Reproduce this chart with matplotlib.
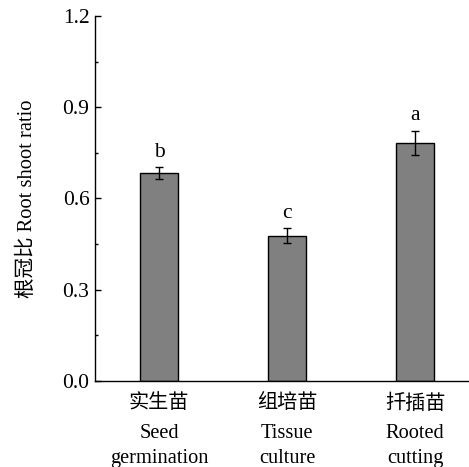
import numpy as np
import matplotlib
matplotlib.use('Agg')
import matplotlib.pyplot as plt

# Data
labels_cn = ['实生苗', '组培苗', '扦插苗']
labels_en1 = ['Seed', 'Tissue', 'Rooted']
labels_en2 = ['germination', 'culture', 'cutting']
means = [0.683, 0.478, 0.783]
errors = [0.019, 0.024, 0.040]
letters = ['b', 'c', 'a']

plt.rcParams['font.family'] = ['Liberation Serif', 'Noto Sans CJK SC']
plt.rcParams['font.size'] = 15

fig = plt.figure(figsize=(4.69, 4.67), dpi=100)
ax = fig.add_axes([0.2026, 0.1842, 0.8188, 0.7816])

x = np.arange(1, len(means) + 1)
ax.bar(x, means, width=0.3, color='#808080', edgecolor='black', linewidth=1,
       yerr=errors, error_kw=dict(ecolor='black', elinewidth=1, capsize=3.2, capthick=1))

# significance letters above the error bars
for xi, m, e, lt in zip(x, means, errors, letters):
    ax.annotate(lt, (xi, m + e), xytext=(0, 4), textcoords='offset points',
                ha='center', va='bottom', fontsize=15.5)

ax.set_xlim(0.5, 3.5)
ax.set_ylim(0, 1.2)
ax.set_yticks([0, 0.3, 0.6, 0.9, 1.2])
ax.set_yticklabels(['0.0', '0.3', '0.6', '0.9', '1.2'], fontsize=15.5)
ax.set_yticks(np.arange(0.15, 1.2, 0.3), minor=True)
ax.tick_params(axis='y', which='major', direction='in', length=4, width=1, pad=4)
ax.tick_params(axis='y', which='minor', direction='in', length=2.5, width=1)

ax.set_xticks(x)
ax.set_xticklabels(labels_cn, fontsize=14.5)
ax.tick_params(axis='x', length=0, pad=9.5)

# English names below the Chinese ones
trans = ax.get_xaxis_transform()
for xi, l1, l2 in zip(x, labels_en1, labels_en2):
    ax.annotate(l1, (xi, 0), xycoords=trans, xytext=(0, -41), textcoords='offset points',
                ha='center', va='baseline', fontsize=14.7)
    ax.annotate(l2, (xi, 0), xycoords=trans, xytext=(0, -59), textcoords='offset points',
                ha='center', va='baseline', fontsize=14.7)

ax.spines['top'].set_visible(False)
ax.spines['right'].set_visible(False)
ax.spines['left'].set_linewidth(1)
ax.spines['bottom'].set_linewidth(1)

ax.set_ylabel('根冠比 Root shoot ratio', fontsize=14.8, labelpad=18.5)

fig.savefig('out.png', dpi=100)
